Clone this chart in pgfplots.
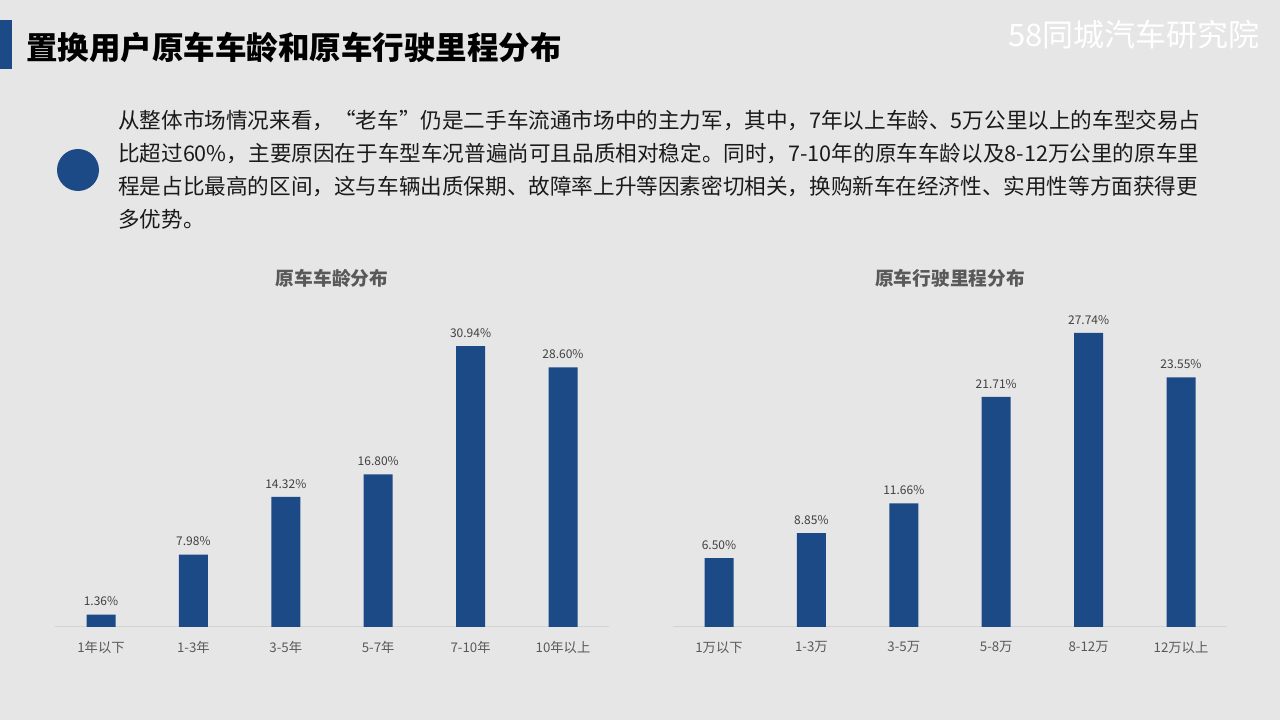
\documentclass[border=0pt]{standalone}
\usepackage{fontspec}
\setmainfont{Noto Sans CJK SC}
\usepackage{pgfplots}
\pgfplotsset{compat=1.18}
\definecolor{bg}{HTML}{E7E6E6}
\definecolor{barblue}{HTML}{1C4A87}
\definecolor{lbl}{HTML}{595959}
\definecolor{vlbl}{HTML}{404040}
\definecolor{axln}{HTML}{D3D3D3}
\definecolor{txt}{HTML}{1A1A1A}
\pgfplotsset{mybar/.style={
  scale only axis, width=554.4pt, xmin=-0.5, xmax=5.5, ymin=0,
  axis x line*=bottom, axis y line=none,
  xtick=data, ytick=\empty, major tick length=0pt,
  x axis line style={axln, line width=1pt, -},
  xticklabel style={font=\fontsize{13.3}{16}\selectfont, text=lbl, yshift=-11pt},
  ybar, bar width=29pt,
  nodes near coords={\pgfmathprintnumber[fixed,fixed zerofill,precision=2]{\pgfplotspointmeta}\%},
  nodes near coords style={font=\fontsize{12}{14}\selectfont, text=vlbl, yshift=5pt},
  /pgf/number format/assume math mode=true,
  clip=false,
}}
\begin{document}
\begin{tikzpicture}[x=1pt,y=1pt]
\fill[bg] (0,0) rectangle (1280,720);
% title
\fill[barblue] (0,651) rectangle (12,700);
\node[anchor=base west, inner sep=0pt, font=\fontsize{31.5}{36}\selectfont\bfseries, text=black] at (26,660) {置换用户原车车龄和原车行驶里程分布};
% logo
\node[anchor=base east, inner sep=0pt, font=\fontsize{31}{36}\selectfont, text=white] at (1260,673) {58同城汽车研究院};
% bullet
\fill[barblue] (78,550) circle (21);
% paragraph
\begin{scope}[every node/.style={anchor=base west, inner sep=0pt, font=\fontsize{21.6}{26}\selectfont, text=txt}]
\node at (118,591) {从整体市场情况来看，“老车”仍是二手车流通市场中的主力军，其中，7年以上车龄、5万公里以上的车型交易占};
\node at (118,558) {比超过60\%，主要原因在于车型车况普遍尚可且品质相对稳定。同时，7-10年的原车车龄以及8-12万公里的原车里};
\node at (118,525) {程是占比最高的区间，这与车辆出质保期、故障率上升等因素密切相关，换购新车在经济性、实用性等方面获得更};
\node at (118,492) {多优势。};
\end{scope}
% chart titles
\node[font=\fontsize{18.7}{22}\selectfont\bfseries, text=lbl] at (332,442) {原车车龄分布};
\node[font=\fontsize{18.7}{22}\selectfont\bfseries, text=lbl] at (950,442) {原车行驶里程分布};
% left chart
\begin{axis}[mybar, at={(54.8pt,93pt)}, anchor=south west, ymax=35, height=317.8pt,
  xticklabels={1年以下,1-3年,3-5年,5-7年,7-10年,10年以上}]
\addplot[fill=barblue, draw=none] coordinates {(0,1.36) (1,7.98) (2,14.32) (3,16.80) (4,30.94) (5,28.60)};
\end{axis}
% right chart
\begin{axis}[mybar, at={(672.8pt,93pt)}, anchor=south west, ymax=30, height=318pt,
  xticklabels={1万以下,1-3万,3-5万,5-8万,8-12万,12万以上}]
\addplot[fill=barblue, draw=none] coordinates {(0,6.50) (1,8.85) (2,11.66) (3,21.71) (4,27.74) (5,23.55)};
\end{axis}
\end{tikzpicture}
\end{document}
